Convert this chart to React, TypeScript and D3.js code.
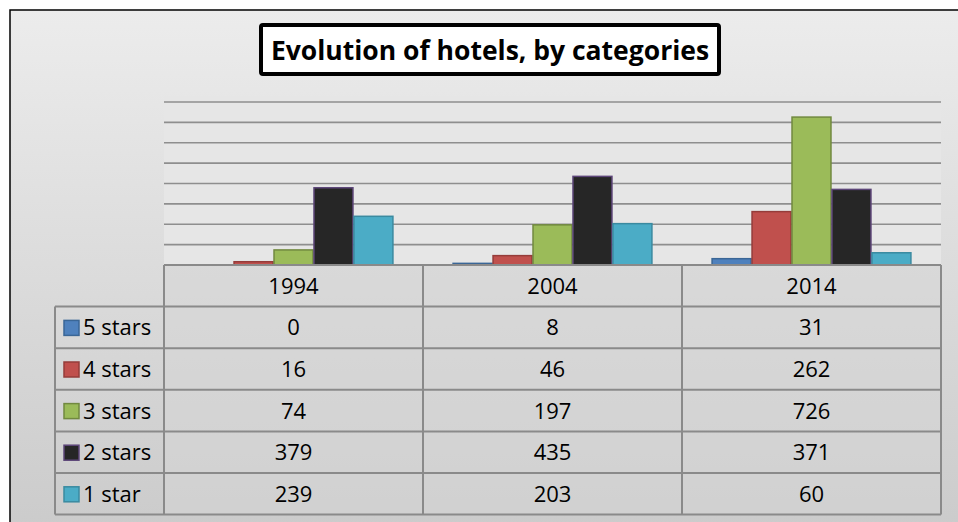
import React from 'react';
import * as d3 from 'd3';

const years = ['1994', '2004', '2014'];
const seriesNames = ['5 stars', '4 stars', '3 stars', '2 stars', '1 star'];
const fiveStars = [0, 8, 31];
const fourStars = [16, 46, 262];
const threeStars = [74, 197, 726];
const twoStars = [379, 435, 371];
const oneStar = [239, 203, 60];
const yTicks = [0, 100, 200, 300, 400, 500, 600, 700, 800];

const fills = ['#4f81bd', '#c0504d', '#9bbb59', '#262626', '#4bacc6'];
const strokes = ['#3a6696', '#953c3a', '#71893f', '#5c4578', '#3a8aa0'];

const W = 958;
const H = 522;
const plotLeft = 164;
const plotRight = 941;
const plotTop = 102;
const baseY = 265;
const legendLeft = 55;
const rowH = 41.6;
const font = "'Open Sans', 'Liberation Sans', sans-serif";

function App(): React.ReactElement {
  const series = [fiveStars, fourStars, threeStars, twoStars, oneStar];

  const x0 = d3.scaleBand<string>().domain(years).range([plotLeft, plotRight]).paddingInner(0).paddingOuter(0);
  const x1 = d3.scaleBand<string>().domain(seriesNames).range([0, x0.bandwidth()]).paddingOuter(0.74).paddingInner(0);
  const y = d3.scaleLinear().domain([0, 800]).range([baseY, plotTop]);

  const rowY = (i: number) => baseY + i * rowH;
  const tableBottom = rowY(6);

  return (
    <svg width={W} height={H} style={{ position: 'absolute', left: 0, top: 0 }}>
      <defs>
        <linearGradient id="bg" x1="0" y1="0" x2="0" y2="1">
          <stop offset="0" stopColor="#ececec" />
          <stop offset="1" stopColor="#cbcbcb" />
        </linearGradient>
      </defs>
      <rect x={10} y={10} width={W} height={H} fill="url(#bg)" stroke="#000" strokeWidth={1.5} />

      {/* title */}
      <rect x={261} y={25} width={458} height={49} fill="#fff" stroke="#000" strokeWidth={4} rx={2} />
      <text x={490} y={60} textAnchor="middle" fontFamily={font} fontWeight="bold" fontSize={26.5} fill="#000">
        Evolution of hotels, by categories
      </text>

      {/* plot background and gridlines */}
      <rect x={plotLeft} y={plotTop - 6} width={plotRight - plotLeft} height={baseY - plotTop + 6} fill="#e6e6e6" />
      {yTicks.slice(1).map((t) => (
        <line key={t} x1={plotLeft} x2={plotRight} y1={y(t)} y2={y(t)} stroke="#8e8e8e" strokeWidth={1.6} />
      ))}

      {/* bars */}
      {years.map((yr, gi) => (
        <g key={yr} transform={`translate(${x0(yr)},0)`}>
          {seriesNames.map((s, si) => {
            const v = series[si][gi];
            const top = y(v);
            return (
              <rect
                key={s}
                x={(x1(s) ?? 0) + 0.5}
                y={top}
                width={x1.bandwidth() - 1}
                height={Math.max(0, baseY - top)}
                fill={fills[si]}
                stroke={strokes[si]}
                strokeWidth={1.5}
              />
            );
          })}
        </g>
      ))}

      {/* data table */}
      <rect x={plotLeft} y={baseY} width={plotRight - plotLeft} height={tableBottom - baseY} fill="#d6d6d6" opacity={0.5} />
      <g stroke="#8a8a8a" strokeWidth={2} fill="none">
        <line x1={plotLeft} x2={plotRight} y1={baseY} y2={baseY} />
        {d3.range(1, 7).map((i) => (
          <line key={i} x1={legendLeft} x2={plotRight} y1={rowY(i)} y2={rowY(i)} />
        ))}
        <line x1={legendLeft} x2={legendLeft} y1={rowY(1)} y2={tableBottom} />
        {years.map((yr) => (
          <line key={yr} x1={x0(yr)} x2={x0(yr)} y1={baseY} y2={tableBottom} />
        ))}
        <line x1={plotRight} x2={plotRight} y1={baseY} y2={tableBottom} />
      </g>
      {years.map((yr) => (
        <text key={yr} x={(x0(yr) ?? 0) + x0.bandwidth() / 2} y={rowY(0) + rowH / 2 + 8} textAnchor="middle"
          fontFamily={font} fontSize={22} fill="#000">
          {yr}
        </text>
      ))}
      {seriesNames.map((s, si) => (
        <g key={s}>
          <rect x={legendLeft + 9} y={rowY(si + 1) + rowH / 2 - 7} width={15} height={15}
            fill={fills[si]} stroke={strokes[si]} strokeWidth={1.5} />
          <text x={legendLeft + 28} y={rowY(si + 1) + rowH / 2 + 8} fontFamily={font} fontSize={22} fill="#000">
            {s}
          </text>
          {years.map((yr, gi) => (
            <text key={yr} x={(x0(yr) ?? 0) + x0.bandwidth() / 2} y={rowY(si + 1) + rowH / 2 + 8}
              textAnchor="middle" fontFamily={font} fontSize={22} fill="#000">
              {series[si][gi]}
            </text>
          ))}
        </g>
      ))}
    </svg>
  );
}

export default App;
